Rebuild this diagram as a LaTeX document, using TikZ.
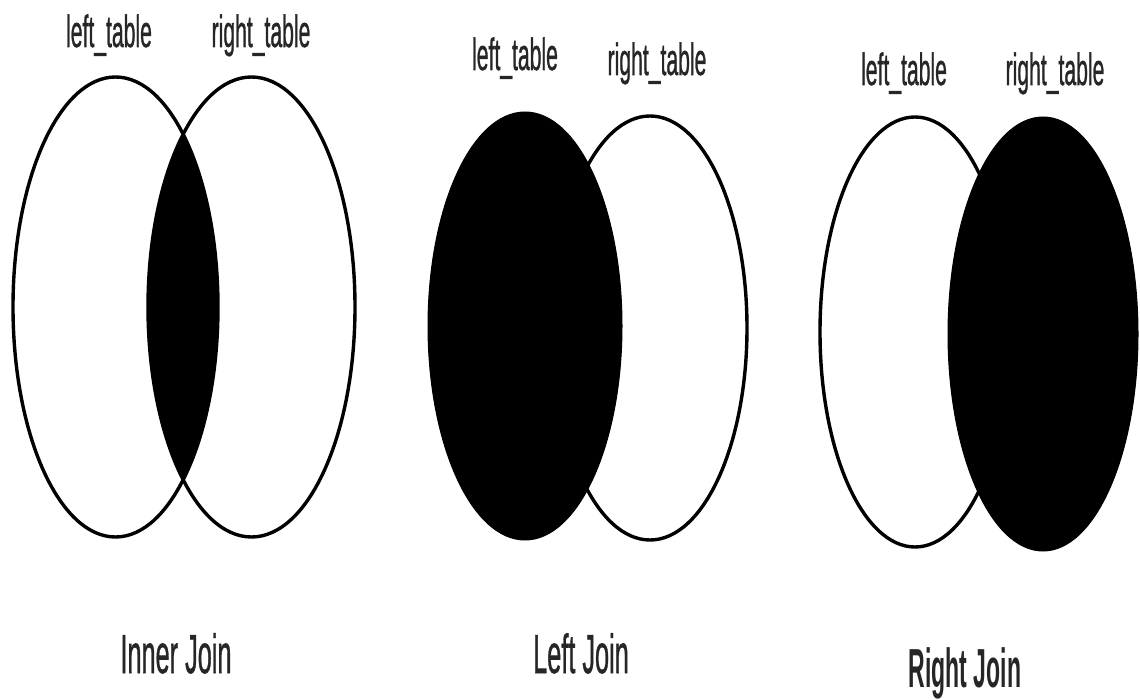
\documentclass[tikz,border=0pt]{standalone}
\usepackage{fontspec}
\setmainfont{Liberation Sans}
\newfontfamily\labelfont[FakeBold=1.2]{Liberation Sans}
\begin{document}
\begin{tikzpicture}[x=1pt,y=-1pt,
  ring/.style={draw=black,line width=3.4pt},
  solid fill/.style={fill=black,draw=black,line width=1pt},
  toplabel/.style={anchor=base,inner sep=0pt,text=black!85,font=\labelfont\fontsize{45}{45}\selectfont,xscale=0.47},
  joinlabel/.style={anchor=base,inner sep=0pt,text=black!85,font=\labelfont\fontsize{55}{55}\selectfont,xscale=0.46}]
\useasboundingbox[fill=white] (0,0) rectangle (1140,700);

% ---------- Inner Join ----------
\begin{scope}
  \clip (115.5,307) ellipse [x radius=102.5, y radius=230];
  \fill[black] (251.5,307) ellipse [x radius=103.5, y radius=230];
\end{scope}
\draw[ring] (115.5,307) ellipse [x radius=102.5, y radius=230];
\draw[ring] (251.5,307) ellipse [x radius=103.5, y radius=230];
\node[toplabel] (l1) at (109,47) {left\_table};
\node[toplabel] (r1) at (261,47) {right\_table};
\node[joinlabel] (j1) at (176,673) {Inner Join};

% ---------- Left Join ----------
\draw[ring] (650,328) ellipse [x radius=97, y radius=212];
\fill[solid fill] (525,326) ellipse [x radius=97, y radius=214];
\node[toplabel] (l2) at (515,70) {left\_table};
\node[toplabel] (r2) at (657,75) {right\_table};
\node[joinlabel] (j2) at (581,673) {Left Join};

% ---------- Right Join ----------
\draw[ring] (915,332) ellipse [x radius=95, y radius=215];
\fill[solid fill] (1043,334) ellipse [x radius=95, y radius=217];
\node[toplabel] (l3) at (904,85) {left\_table};
\node[toplabel] (r3) at (1055,85) {right\_table};
\node[joinlabel,font=\fontsize{55}{55}\selectfont\bfseries,xscale=0.91] (j3) at (965,687) {Right Join};
\end{tikzpicture}
\end{document}
